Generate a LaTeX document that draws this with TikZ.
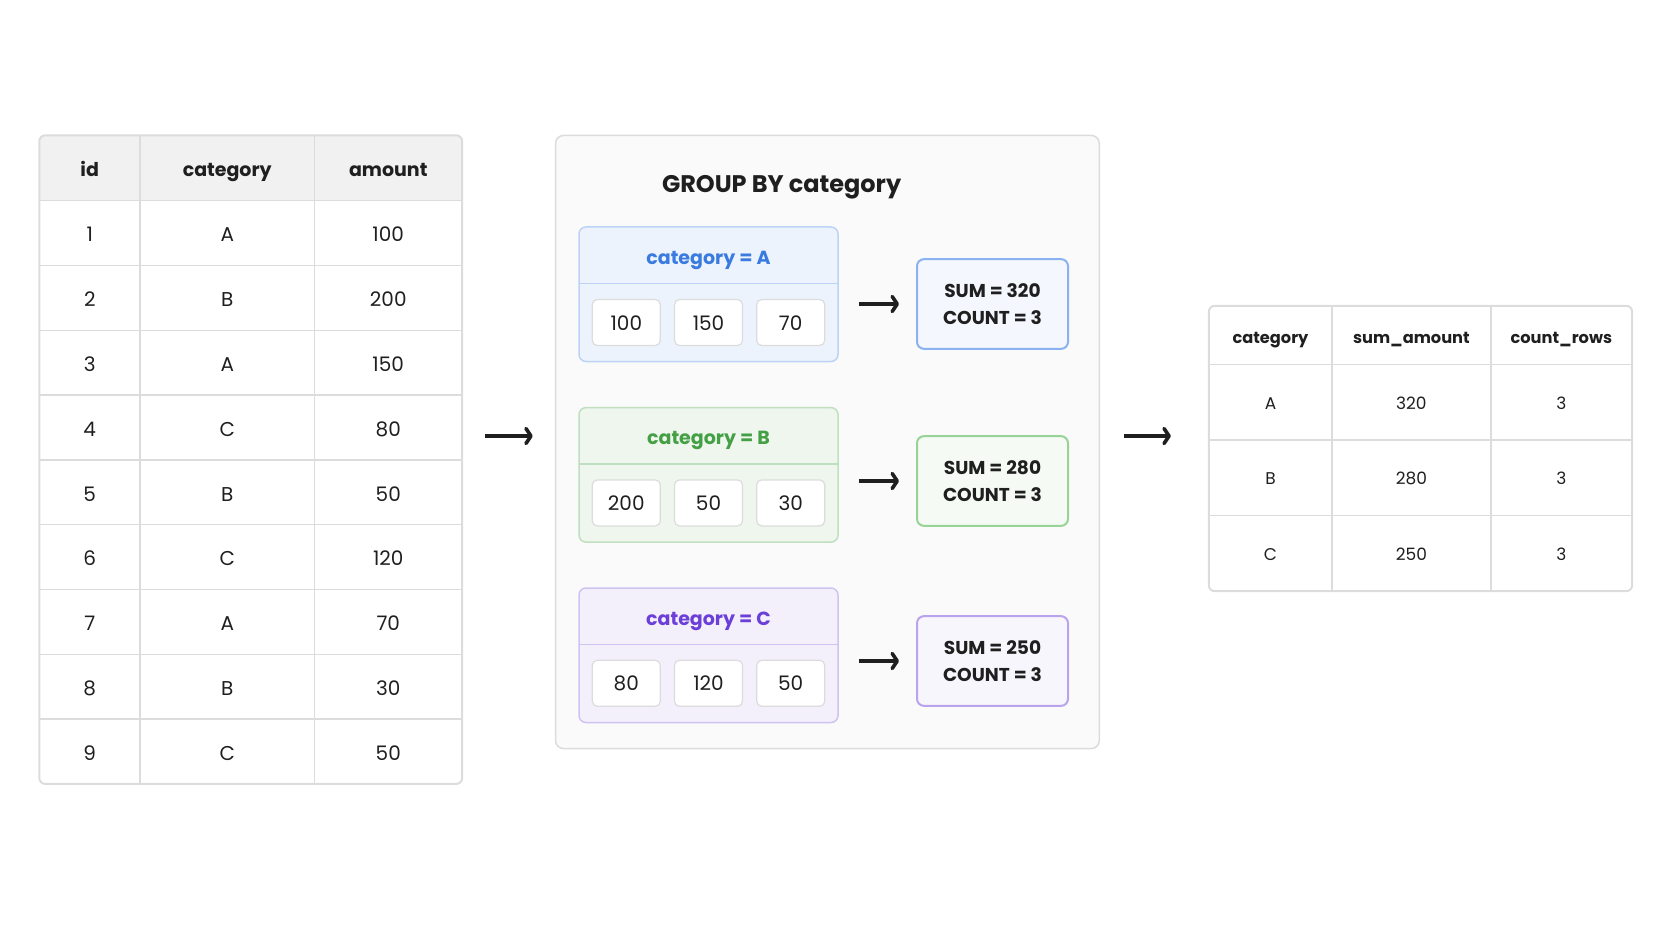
\documentclass[tikz,border=0pt]{standalone}
\usepackage{fontspec}
\setmainfont{Poppins}
\usepackage{tikz}
\usetikzlibrary{arrows.meta, positioning, backgrounds}

\definecolor{ink}{HTML}{1F1F1F}
\definecolor{gridgray}{HTML}{DCDCDC}
\definecolor{headgray}{HTML}{F1F1F1}
\definecolor{panelfill}{HTML}{FAFAFA}
\definecolor{headgreen}{HTML}{E6F3E6}
\definecolor{blueFill}{HTML}{EDF3FD}
\definecolor{blueLine}{HTML}{BDD3F5}
\definecolor{blueText}{HTML}{3A7BE0}
\definecolor{blueSum}{HTML}{8AB2F0}
\definecolor{greenFill}{HTML}{EEF6EE}
\definecolor{greenLine}{HTML}{C0DFC0}
\definecolor{greenText}{HTML}{45A045}
\definecolor{greenSum}{HTML}{97D397}
\definecolor{purpleFill}{HTML}{F3F0FC}
\definecolor{purpleLine}{HTML}{CFC3F2}
\definecolor{purpleText}{HTML}{6B3FD8}
\definecolor{purpleSum}{HTML}{B9A3EC}

\begin{document}
\begin{tikzpicture}[x=1pt, y=-1pt, text=ink,
    grid/.style = {draw=gridgray, line width=1.5pt},
    cell/.style = {inner sep=0pt, minimum height=64.8pt, text height=18pt, text depth=0pt,
        font=\fontsize{20}{24}\selectfont},
    head/.style = {cell, minimum height=65pt, text height=17.5pt, font=\fontsize{19}{24}\selectfont\bfseries},
    c1/.style = {minimum width=100.5pt},
    c2/.style = {minimum width=174.5pt},
    c3/.style = {minimum width=147.5pt},
    rcell/.style = {inner sep=0pt, minimum height=75.5pt, text height=14pt, text depth=0pt,
        font=\fontsize{17}{20}\selectfont},
    rhead/.style = {rcell, minimum height=58.5pt, text height=15.5pt, font=\fontsize{16.2}{20}\selectfont\bfseries},
    r1/.style = {minimum width=123pt},
    r2/.style = {minimum width=158.7pt},
    r3/.style = {minimum width=141.3pt},
    panel/.style = {draw=gridgray, fill=panelfill, line width=1.5pt, rounded corners=8pt,
        minimum width=543.8pt, minimum height=613.1pt},
    groupbox/.style = {line width=1.5pt, rounded corners=7pt, minimum width=259pt, minimum height=134.5pt},
    grouphead/.style = {minimum width=259pt, minimum height=56.6pt, inner sep=0pt,
        text height=19pt, text depth=0pt, font=\fontsize{19}{24}\selectfont\bfseries},
    valbox/.style = {draw=gridgray, fill=white, line width=1.2pt, rounded corners=5pt,
        minimum width=68pt, minimum height=46pt, inner sep=0pt, text height=15pt, text depth=0pt,
        font=\fontsize{20}{24}\selectfont},
    sumbox/.style = {line width=2pt, rounded corners=7pt, minimum width=151pt, minimum height=89.7pt,
        align=center, font=\fontsize{18.6}{27.7}\selectfont\bfseries},
    arr/.style = {draw=ink, line width=3.6pt,
        -{Straight Barb[length=5pt, width=15pt, line width=3.6pt, round]}}]

\useasboundingbox (0,0) rectangle (1672,941);

% input table
\node[head, c1] (hid) at (89.75,168) {id};
\node[head, c2] (hcat) at (227.25,168) {category};
\node[head, c3] (hamt) at (388.25,168) {amount};
\node[cell, c1] (id1) at (89.75,232.9) {1}; \node[cell, c2] (cat1) at (227.25,232.9) {A}; \node[cell, c3] (amt1) at (388.25,232.9) {100};
\node[cell, c1] (id2) at (89.75,297.7) {2}; \node[cell, c2] (cat2) at (227.25,297.7) {B}; \node[cell, c3] (amt2) at (388.25,297.7) {200};
\node[cell, c1] (id3) at (89.75,362.5) {3}; \node[cell, c2] (cat3) at (227.25,362.5) {A}; \node[cell, c3] (amt3) at (388.25,362.5) {150};
\node[cell, c1] (id4) at (89.75,427.3) {4}; \node[cell, c2] (cat4) at (227.25,427.3) {C}; \node[cell, c3] (amt4) at (388.25,427.3) {80};
\node[cell, c1] (id5) at (89.75,492.1) {5}; \node[cell, c2] (cat5) at (227.25,492.1) {B}; \node[cell, c3] (amt5) at (388.25,492.1) {50};
\node[cell, c1] (id6) at (89.75,556.9) {6}; \node[cell, c2] (cat6) at (227.25,556.9) {C}; \node[cell, c3] (amt6) at (388.25,556.9) {120};
\node[cell, c1] (id7) at (89.75,621.7) {7}; \node[cell, c2] (cat7) at (227.25,621.7) {A}; \node[cell, c3] (amt7) at (388.25,621.7) {70};
\node[cell, c1] (id8) at (89.75,686.5) {8}; \node[cell, c2] (cat8) at (227.25,686.5) {B}; \node[cell, c3] (amt8) at (388.25,686.5) {30};
\node[cell, c1] (id9) at (89.75,751.3) {9}; \node[cell, c2] (cat9) at (227.25,751.3) {C}; \node[cell, c3] (amt9) at (388.25,751.3) {50};

\begin{scope}[on background layer]
    \clip[rounded corners=6pt] (hid.north west) rectangle (amt9.south east);
    \fill[headgray] (hid.north west) rectangle (hamt.south east);
\end{scope}
\draw[grid] (hid.south west) -- (hamt.south east);
\foreach \r in {1,...,8}
    \draw[grid] (id\r.south west) -- (amt\r.south east);
\draw[grid] (hid.north east) -- (id9.south east);
\draw[grid] (hcat.north east) -- (cat9.south east);
\draw[grid, line width=2pt, rounded corners=6pt] (hid.north west) rectangle (amt9.south east);

% group by panel
\node[panel] (grp) at (827.4,442) {};
\node[text height=16.8pt, text depth=0pt, font=\fontsize{24}{28}\selectfont\bfseries] (gtitle) at (781.6,184) {GROUP BY category};

% category A
\node[groupbox, draw=blueLine, fill=blueFill] (ga) at (708.5,294.25) {};
\node[grouphead, text=blueText, anchor=north] (gah) at (ga.north) {category = A};
\draw[blueLine, line width=1.5pt] (gah.south west) -- (gah.south east);
\node[valbox] (va2) at (708.5,322.5) {150};
\node[valbox, left=13pt of va2] (va1) {100};
\node[valbox, right=13pt of va2] (va3) {70};
\node[sumbox, draw=blueSum, fill=blueFill!60!white] (sa) at (992.5,304) {SUM = 320\\COUNT = 3};
\draw[arr, shorten <=20pt, shorten >=17pt] (ga.east |- sa.west) -- (sa.west);

% category B
\node[groupbox, draw=greenLine, fill=greenFill] (gb) at (708.5,474.85) {};
\node[grouphead, text=greenText, anchor=north] (gbh) at (gb.north) {category = B};
\draw[greenLine, line width=1.5pt] (gbh.south west) -- (gbh.south east);
\node[valbox] (vb2) at (708.5,502.9) {50};
\node[valbox, left=13pt of vb2] (vb1) {200};
\node[valbox, right=13pt of vb2] (vb3) {30};
\node[sumbox, draw=greenSum, fill=greenFill!60!white] (sb) at (992.5,481) {SUM = 280\\COUNT = 3};
\draw[arr, shorten <=20pt, shorten >=17pt] (gb.east |- sb.west) -- (sb.west);

% category C
\node[groupbox, draw=purpleLine, fill=purpleFill] (gc) at (708.5,655.25) {};
\node[grouphead, text=purpleText, anchor=north] (gch) at (gc.north) {category = C};
\draw[purpleLine, line width=1.5pt] (gch.south west) -- (gch.south east);
\node[valbox] (vc2) at (708.5,683.3) {120};
\node[valbox, left=13pt of vc2] (vc1) {80};
\node[valbox, right=13pt of vc2] (vc3) {50};
\node[sumbox, draw=purpleSum, fill=purpleFill!60!white] (sc) at (992.5,661) {SUM = 250\\COUNT = 3};
\draw[arr, shorten <=20pt, shorten >=17pt] (gc.east |- sc.west) -- (sc.west);

% result table
\node[rhead, r1] (rcat) at (1270.5,335.25) {category};
\node[rhead, r2] (rsum) at (1411.35,335.25) {sum\_amount};
\node[rhead, r3] (rcnt) at (1561.35,335.25) {count\_rows};
\node[rcell, r1] (rcat1) at (1270.5,402.25) {A}; \node[rcell, r2] (rsum1) at (1411.35,402.25) {320}; \node[rcell, r3] (rcnt1) at (1561.35,402.25) {3};
\node[rcell, r1] (rcat2) at (1270.5,477.75) {B}; \node[rcell, r2] (rsum2) at (1411.35,477.75) {280}; \node[rcell, r3] (rcnt2) at (1561.35,477.75) {3};
\node[rcell, r1] (rcat3) at (1270.5,553.25) {C}; \node[rcell, r2] (rsum3) at (1411.35,553.25) {250}; \node[rcell, r3] (rcnt3) at (1561.35,553.25) {3};

\begin{scope}[on background layer]
    \clip[rounded corners=6pt] (rcat.north west) rectangle (rcnt3.south east);
    \fill[headgreen] (rcat.north west) rectangle (rcnt.south east);
\end{scope}
\draw[grid] (rcat.south west) -- (rcnt.south east);
\draw[grid] (rcat1.south west) -- (rcnt1.south east);
\draw[grid] (rcat2.south west) -- (rcnt2.south east);
\draw[grid] (rcat.north east) -- (rcat3.south east);
\draw[grid] (rsum.north east) -- (rsum3.south east);
\draw[grid, line width=2pt, rounded corners=6pt] (rcat.north west) rectangle (rcnt3.south east);

% flow arrows
\coordinate (flow) at (0,436);
\draw[arr, shorten <=23pt, shorten >=22pt] (amt4.east |- flow) -- (grp.west |- flow);
\draw[arr, shorten <=24pt, shorten >=38pt] (grp.east |- flow) -- (rcat1.west |- flow);
\end{tikzpicture}
\end{document}
